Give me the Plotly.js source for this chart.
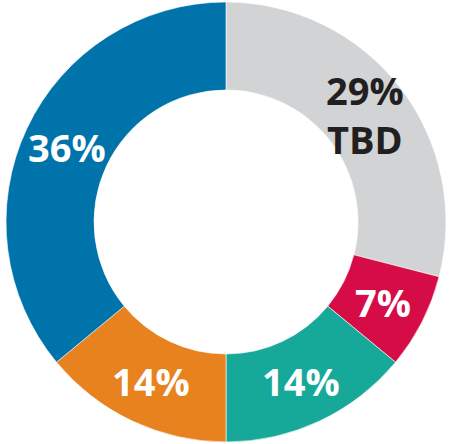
<!DOCTYPE html>
<html>
<head>
<meta charset="utf-8">
<script src="https://cdn.plot.ly/plotly-3.0.1.min.js"></script>
<style>html,body{margin:0;padding:0;background:#fff;}#chart{width:449px;height:444px;}</style>
</head>
<body>
<div id="chart"></div>
<script>
const categories = ['TBD', 'B', 'C', 'D', 'E'];
const shownNames = ['TBD', '', '', '', ''];
const values = [29, 7, 14, 14, 36];
const colors = ['#d1d3d4', '#d50c45', '#16a99a', '#e8821e', '#0074aa'];
const textColors = ['#231f20', '#ffffff', '#ffffff', '#ffffff', '#ffffff'];

const W = 449, H = 444;
const dom = { x: [0.0134, 0.9933], y: [0.0045, 0.9955] };
const holeFrac = 0.6;

const trace = {
  type: 'pie',
  labels: categories,
  values: values,
  textinfo: 'none',
  hole: holeFrac,
  sort: false,
  direction: 'clockwise',
  rotation: 0,
  marker: { colors: colors, line: { color: '#ffffff', width: 0.6 } },
  domain: dom,
  showlegend: false,
  hoverinfo: 'none'
};

// label placement derived from the slice values (mid-angle, middle of ring)
const total = values.reduce((a, b) => a + b, 0);
const cxPx = (dom.x[0] + dom.x[1]) / 2 * W;
const cyPx = (1 - (dom.y[0] + dom.y[1]) / 2) * H;
const R = Math.min((dom.x[1] - dom.x[0]) * W, (dom.y[1] - dom.y[0]) * H) / 2;
const rMid = R * (1 + holeFrac) / 2;
let cum = 0;
const annotations = values.map((v, i) => {
  const a = (cum + v / 2) / total * 2 * Math.PI;
  cum += v;
  const px = cxPx + rMid * Math.sin(a);
  const py = cyPx - rMid * Math.cos(a);
  return {
    xref: 'paper', yref: 'paper',
    x: px / W, y: 1 - py / H,
    xanchor: 'center', yanchor: 'middle',
    showarrow: false,
    text: v + '%' + (shownNames[i] ? '<br>' + shownNames[i] : ''),
    font: { family: 'Open Sans, sans-serif', size: 38, weight: 700, color: textColors[i] }
  };
});

Plotly.newPlot('chart', [trace], {
  width: W, height: H,
  margin: { l: 0, r: 0, t: 0, b: 0 },
  paper_bgcolor: '#ffffff',
  showlegend: false,
  annotations: annotations
}, { staticPlot: true });
</script>
</body>
</html>
